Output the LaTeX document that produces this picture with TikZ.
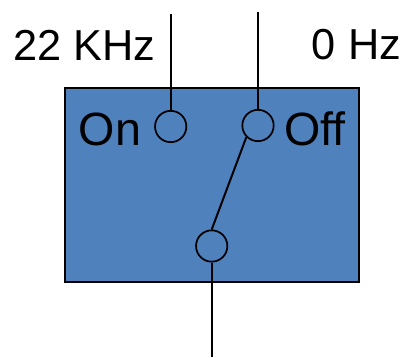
\documentclass[tikz,border=0pt]{standalone}
\usepackage{fontspec}
\setmainfont{Liberation Sans}
\definecolor{boxblue}{RGB}{79,129,189}
\tikzset{
  term/.style={circle,draw=black,line width=1.3pt,fill=boxblue,minimum size=23.5pt,inner sep=0pt},
  wire/.style={line width=1.5pt,draw=black},
  lab/.style={inner sep=0pt,text=black}
}
\begin{document}
\begin{tikzpicture}[x=0.75pt,y=-0.75pt]
\useasboundingbox (0,0) rectangle (402,357);
\node[draw=black,line width=1.5pt,fill=boxblue,minimum width=220.5pt,minimum height=145.5pt,inner sep=0pt,anchor=north west] (box) at (64,87.3) {};
\node[term] (on) at (170.7,126.5) {};
\node[term] (off) at (258,125.5) {};
\node[term] (com) at (211.7,246) {};
\coordinate (t1) at (170.7,14);
\coordinate (t2) at (258,12);
\coordinate (b) at (211.7,357);
\draw[wire] (t1) -- (on);
\draw[wire] (t2) -- (off);
\draw[wire] (off.225) -- (com.north);
\draw[wire] (com) -- (b);
\node[lab,font=\fontsize{32.5pt}{33pt}\selectfont,anchor=center] (l22) at (84.5,45) {22 KHz};
\node[lab,font=\fontsize{32.5pt}{33pt}\selectfont,anchor=center] (l0) at (356.5,45) {0 Hz};
\node[lab,font=\fontsize{35pt}{36pt}\selectfont,anchor=center] (lon) at (110,129) {On};
\node[lab,font=\fontsize{35pt}{36pt}\selectfont,anchor=center] (loff) at (315,129) {Off};
\end{tikzpicture}
\end{document}
